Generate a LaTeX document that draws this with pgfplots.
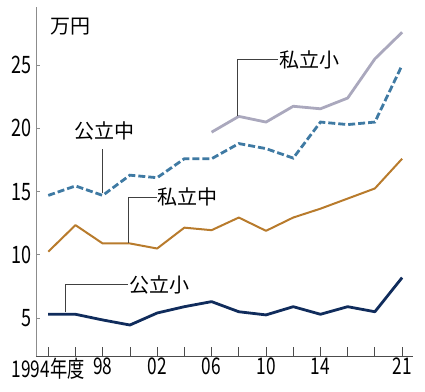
\documentclass[border=0pt]{standalone}
\usepackage{fontspec}
\usepackage{pgfplots}
\pgfplotsset{compat=1.18}
\setmainfont{Noto Sans CJK JP}
\newfontfamily\tickfont[FakeStretch=0.75]{Noto Sans CJK JP}
\definecolor{navyc}{HTML}{102C5C}
\definecolor{bluec}{HTML}{3F7AA3}
\definecolor{orangec}{HTML}{B87B2C}
\definecolor{grayc}{HTML}{AAA8BD}
\begin{document}
\begin{tikzpicture}
\begin{axis}[
  at={(36pt,35pt)}, anchor=south west, scale only axis,
  width=377pt, height=349pt,
  xmin=-0.45, xmax=13.4, ymin=2, ymax=29.6,
  axis x line=bottom, axis y line=left,
  axis line style={-},
  x axis line style={color=black!70, line width=0.8pt},
  y axis line style={color=black!45, line width=0.8pt},
  xtick={0,...,13},
  xticklabels={1994年度,,98,,02,,06,,10,,14,,,21},
  ytick={5,10,15,20,25},
  tick align=inside,
  x tick style={color=black!70, line width=0.8pt, /pgfplots/major tick length=9pt},
  y tick style={color=black!45, line width=0.8pt, /pgfplots/major tick length=4pt},
  /pgf/number format/assume math mode=true,
  xticklabel style={font=\tickfont\fontsize{23}{23}\selectfont, inner sep=0pt, yshift=-2pt},
  yticklabel style={font=\tickfont\fontsize{24}{24}\selectfont, inner sep=0pt, xshift=-4pt},
  clip=false,
]
% 公立小
\addplot[navyc, line width=2.8pt, line join=round] coordinates {
(0,5.3)(1,5.3)(2,4.85)(3,4.45)(4,5.4)(5,5.9)(6,6.3)(7,5.5)(8,5.25)(9,5.9)(10,5.3)(11,5.9)(12,5.5)(13,8.2)};
% 公立中
\addplot[bluec, line width=2.8pt, dash pattern=on 7pt off 3pt] coordinates {
(0,14.7)(1,15.45)(2,14.7)(3,16.3)(4,16.1)(5,17.6)(6,17.6)(7,18.8)(8,18.4)(9,17.65)(10,20.5)(11,20.3)(12,20.5)(13,25.0)};
% 私立中
\addplot[orangec, line width=2pt, line join=round] coordinates {
(0,10.25)(1,12.35)(2,10.9)(3,10.9)(4,10.5)(5,12.15)(6,11.95)(7,12.95)(8,11.9)(9,12.95)(10,13.65)(11,14.45)(12,15.25)(13,17.6)};
% 私立小
\addplot[grayc, line width=2.8pt, line join=round] coordinates {
(6,19.7)(7,20.95)(8,20.5)(9,21.75)(10,21.55)(11,22.4)(12,25.5)(13,27.6)};
% labels and leaders
\draw[black!75, line width=0.7pt] (0.625,5.45) -- (0.625,7.63) -- (2.93,7.63);
\node[anchor=west, inner sep=1pt, font=\fontsize{20}{20}\selectfont] at (2.93,7.63) {公立小};
\draw[black!75, line width=0.7pt] (2,14.9) -- (2,18.4);
\node[inner sep=0pt, font=\fontsize{20}{20}\selectfont] at (2.05,19.76) {公立中};
\draw[black!75, line width=0.7pt] (2.95,10.95) -- (2.95,14.55) -- (3.98,14.55);
\node[anchor=west, inner sep=1pt, font=\fontsize{20}{20}\selectfont] at (3.98,14.55) {私立中};
\draw[black!75, line width=0.7pt] (6.96,21.0) -- (6.96,25.45) -- (8.44,25.45);
\node[anchor=west, inner sep=1pt, font=\fontsize{20}{20}\selectfont] at (8.44,25.45) {私立小};
\node[inner sep=0pt, font=\fontsize{20}{20}\selectfont] at (0.8,28.07) {万円};
\end{axis}
\pgfresetboundingbox
\path (0,0) rectangle (425pt,391pt);
\end{tikzpicture}
\end{document}
